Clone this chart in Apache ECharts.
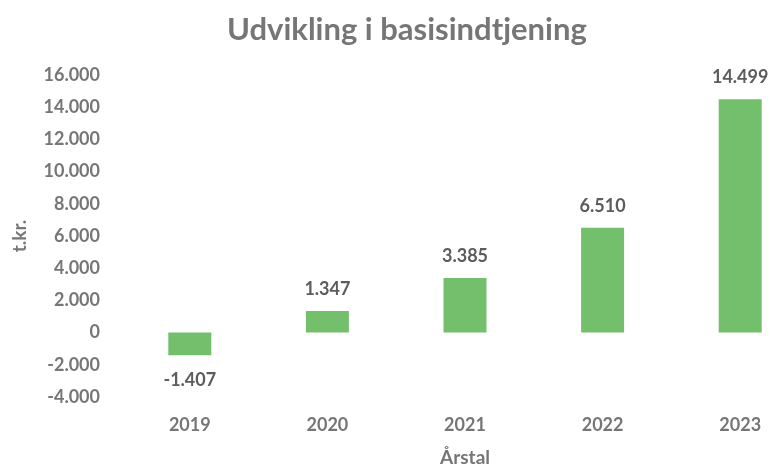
<!DOCTYPE html>
<html>
<head>
<meta charset="utf-8">
<script src="https://cdn.jsdelivr.net/npm/echarts@6/dist/echarts.min.js"></script>
<style>
  html, body { margin: 0; padding: 0; background: #fff; }
  #chart { width: 770px; height: 467px; }
</style>
</head>
<body>
<div id="chart"></div>
<script>
  var years = ['2019', '2020', '2021', '2022', '2023']
  var values = [-1407, 1347, 3385, 6510, 14499]

  // dansk tusindtalsseparator
  function fmt (v) {
    var s = String(Math.abs(v)).replace(/\B(?=(\d{3})+(?!\d))/g, '.')
    return (v < 0 ? '-' : '') + s
  }

  var font = 'Lato, "Open Sans", sans-serif'
  var chart = echarts.init(document.getElementById('chart'))

  chart.setOption({
    backgroundColor: '#ffffff',
    title: {
      text: 'Udvikling i basisindtjening',
      left: 222,
      top: 9,
      textStyle: { fontFamily: font, fontSize: 31, fontWeight: 'bold', color: '#767676' }
    },
    grid: { left: 121, top: 75, bottom: 70, width: 688, outerBoundsMode: 'none', containLabel: false },
    xAxis: {
      type: 'category',
      data: years,
      name: 'Årstal',
      nameLocation: 'middle',
      nameGap: 51,
      nameTextStyle: { fontFamily: font, fontSize: 19, fontWeight: 'bold', color: '#767676' },
      axisLine: { show: false, onZero: false },
      axisTick: { show: false },
      axisLabel: { margin: 19, fontFamily: font, fontSize: 18, fontWeight: 'bold', color: '#767676' }
    },
    yAxis: {
      type: 'value',
      min: -4000,
      max: 16000,
      interval: 2000,
      name: 't.kr.',
      nameLocation: 'middle',
      nameGap: 92,
      nameTextStyle: { fontFamily: font, fontSize: 19, fontWeight: 'bold', color: '#767676' },
      splitLine: { show: false },
      axisLine: { show: false },
      axisTick: { show: false },
      axisLabel: {
        margin: 21,
        fontFamily: font, fontSize: 18, fontWeight: 'bold', color: '#767676',
        formatter: fmt
      }
    },
    series: [
      {
        type: 'bar',
        barWidth: 43,
        itemStyle: { color: '#74bf6b' },
        data: values.map(function (v) {
          return {
            value: v,
            label: { position: v < 0 ? 'bottom' : 'top', distance: v < 0 ? 16 : 13 }
          }
        }),
        label: {
          show: true,
          fontFamily: font, fontSize: 18, fontWeight: 'bold', color: '#5c5c5c',
          formatter: function (p) { return fmt(p.value) }
        }
      }
    ]
  })
</script>
</body>
</html>
